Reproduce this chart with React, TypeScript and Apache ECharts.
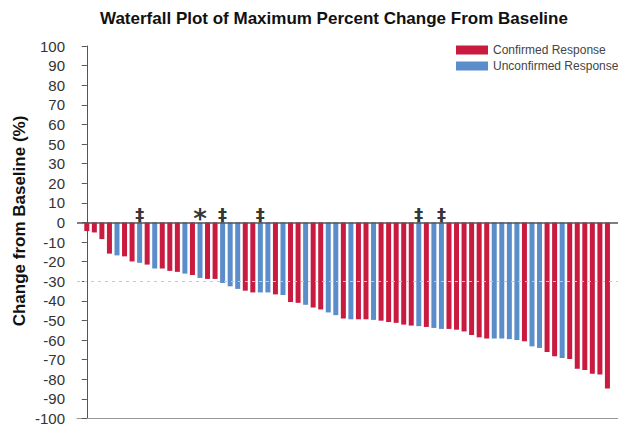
import React, { useEffect, useRef } from "react";
import * as echarts from "echarts";

// Maximum percent change from baseline per patient, sorted (waterfall order)
const changeValues = [
  -4.4, -5.1, -8.5, -15.9, -16.8, -17.3, -19.9, -20.6, -21.5, -23.5,
  -23.5, -24.7, -25.2, -26.1, -26.8, -28.3, -28.8, -28.8, -30.9, -32.6,
  -33.9, -34.8, -35.7, -35.7, -35.7, -36.7, -37.0, -40.6, -41.0, -42.0,
  -43.4, -44.4, -45.9, -47.3, -49.0, -49.4, -49.4, -49.4, -49.7, -50.1,
  -50.8, -51.2, -52.1, -52.6, -52.9, -53.3, -53.8, -54.3, -54.3, -54.7,
  -55.6, -57.4, -58.6, -59.2, -59.2, -59.2, -59.5, -60.0, -60.6, -63.2,
  -64.0, -66.1, -68.3, -69.2, -69.7, -74.6, -75.3, -77.2, -77.6, -84.7,
];

// C = confirmed response, U = unconfirmed response
const responseTypes = [
  "C", "C", "C", "C", "U", "C", "C", "U", "C", "U",
  "C", "C", "C", "U", "C", "U", "C", "C", "U", "U",
  "U", "C", "C", "U", "U", "C", "U", "C", "C", "U",
  "C", "C", "U", "U", "C", "U", "C", "C", "U", "C",
  "C", "C", "C", "C", "U", "C", "U", "U", "C", "C",
  "C", "C", "C", "C", "U", "U", "U", "U", "C", "U",
  "U", "C", "C", "U", "C", "C", "C", "C", "C", "C",
];

// Footnote symbols shown above selected patients
const markerIndices = [7, 15, 18, 23, 44, 47];
const markerSymbols = ["‡", "*", "‡", "‡", "‡", "‡"];

// Tick labels for tick values -100 .. 90 (step 10)
const yTickLabels = [
  "-100", "-90", "-80", "-70", "-60", "-50", "-40", "-30", "-20", "-10",
  "0", "10", "20", "30", "50", "60", "70", "80", "90", "100",
];

const CONFIRMED = "Confirmed Response";
const UNCONFIRMED = "Unconfirmed Response";
const RED = "#C91A3F";
const BLUE = "#5B8DCB";
const FONT = "'Liberation Sans', Arial, Helvetica, sans-serif";

export default function App() {
  const ref = useRef<HTMLDivElement>(null);

  useEffect(() => {
    if (!ref.current) return;
    const chart = echarts.init(ref.current, null, { renderer: "svg" });

    const confirmed = changeValues
      .map((v, i) => (responseTypes[i] === "C" ? [i, v] : null))
      .filter((d) => d !== null);
    const unconfirmed = changeValues
      .map((v, i) => (responseTypes[i] === "U" ? [i, v] : null))
      .filter((d) => d !== null);
    const markers = markerIndices.map((idx, k) => {
      const star = markerSymbols[k] === "*";
      return {
        value: [idx, 0, markerSymbols[k]],
        label: star
          ? { fontSize: 26, offset: [0, -3] }
          : { fontSize: 18, offset: [0, -8] },
      };
    });

    chart.setOption({
      animation: false,
      backgroundColor: "#ffffff",
      textStyle: { fontFamily: FONT },
      title: {
        text: "Waterfall Plot of Maximum Percent Change From Baseline",
        left: 100,
        top: 10,
        padding: 0,
        textStyle: { fontFamily: FONT, fontSize: 17, fontWeight: "bold", color: "#111" },
      },
      legend: {
        data: [CONFIRMED, UNCONFIRMED],
        orient: "vertical",
        left: 456,
        top: 44,
        padding: 0,
        itemWidth: 32,
        itemHeight: 9,
        itemGap: 4,
        icon: "rect",
        textStyle: { fontFamily: FONT, fontSize: 12, color: "#444" },
      },
      graphic: [
        {
          type: "text",
          x: 19,
          y: 221,
          rotation: Math.PI / 2,
          style: {
            text: "Change from Baseline (%)",
            fontFamily: FONT,
            fontSize: 17,
            fontWeight: "bold",
            fill: "#111",
            align: "center",
            verticalAlign: "middle",
          },
        },
      ],
      grid: { left: 77, right: 0, top: 46, bottom: 7, containLabel: false },
      xAxis: {
        type: "value",
        min: -1.3,
        max: 70.4,
        axisLine: { show: true, onZero: false, lineStyle: { color: "#999", width: 1 } },
        axisTick: { show: false },
        axisLabel: { show: false },
        splitLine: { show: false },
      },
      yAxis: {
        type: "value",
        min: -100,
        max: 90,
        interval: 10,
        axisLine: { show: true, lineStyle: { color: "#555", width: 1 } },
        axisTick: { show: true, length: 5, lineStyle: { color: "#555" } },
        axisLabel: {
          margin: 12,
          fontFamily: FONT,
          fontSize: 15,
          color: "#333",
          formatter: (v: number) => yTickLabels[Math.round((v + 100) / 10)],
        },
        splitLine: { show: false },
      },
      series: [
        {
          name: "markers",
          type: "scatter",
          z: 1,
          symbolSize: 0,
          itemStyle: { color: "#000" },
          data: markers,
          label: {
            show: true,
            position: "inside",
            fontFamily: "'DejaVu Sans', sans-serif",
            fontWeight: "bold",
            color: "#000",
            textBorderWidth: 0,
            textBorderColor: "transparent",
            formatter: (p: any) => p.value[2],
          },
          markLine: {
            silent: true,
            symbol: "none",
            label: { show: false },
            lineStyle: { color: "#c8c8c8", width: 1, type: [3, 4] },
            data: [{ yAxis: -30 }],
          },
        },
        {
          name: CONFIRMED,
          type: "bar",
          z: 2,
          barWidth: 5,
          barGap: "-100%",
          itemStyle: { color: RED },
          data: confirmed,
        },
        {
          name: UNCONFIRMED,
          type: "bar",
          z: 2,
          barWidth: 5,
          barGap: "-100%",
          itemStyle: { color: BLUE },
          data: unconfirmed,
          markLine: {
            silent: true,
            symbol: "none",
            label: { show: false },
            lineStyle: { color: "#555", width: 1.5, type: "solid" },
            data: [{ yAxis: 0 }],
          },
        },
      ],
    });

    return () => chart.dispose();
  }, []);

  return (
    <div
      ref={ref}
      style={{ position: "fixed", left: 0, top: 0, width: 618, height: 426, background: "#fff" }}
    />
  );
}
